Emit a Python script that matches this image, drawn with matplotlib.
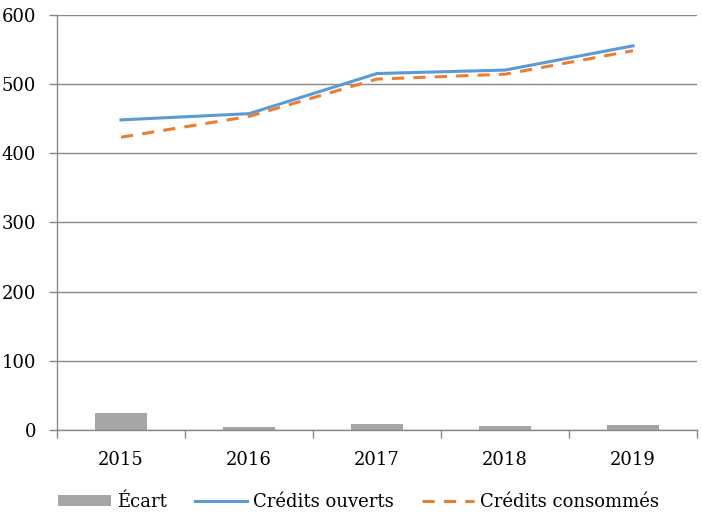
import matplotlib
matplotlib.use('Agg')
import matplotlib.pyplot as plt
import numpy as np

annees = ['2015', '2016', '2017', '2018', '2019']
credits_ouverts = [448, 457, 515, 520, 555]
credits_consommes = [423, 453, 507, 514, 548]
ecart = [25, 4, 8, 6, 7]

plt.rcParams['font.family'] = ['DejaVu Serif']

fig = plt.figure(figsize=(7.02, 5.25), dpi=100)
ax = fig.add_axes([0.0812, 0.181, 0.9117, 0.791])

x = np.arange(len(annees))
b = ax.bar(x, ecart, width=0.4, color='#A5A5A5', label='Écart', zorder=2)
l1, = ax.plot(x, credits_ouverts, color='#5B9BD5', lw=2.2, label='Crédits ouverts', zorder=3)
l2, = ax.plot(x, credits_consommes, color='#ED7D31', lw=2.2, ls=(0, (4, 3)),
              label='Crédits consommés', zorder=3)

ax.set_xlim(-0.5, len(annees) - 0.5)
ax.set_ylim(0, 600)
ax.set_yticks(range(0, 601, 100))
ax.set_xticks(x)
ax.set_xticklabels(annees)
ax.set_xticks(np.arange(-0.5, len(annees), 1), minor=True)

gris = '#898989'
ax.grid(axis='y', color=gris, lw=1, zorder=0)
for s in ['top', 'right']:
    ax.spines[s].set_visible(False)
for s in ['left', 'bottom']:
    ax.spines[s].set_color(gris)
    ax.spines[s].set_linewidth(1)

ax.tick_params(axis='x', which='major', length=0, pad=15, labelsize=13)
ax.tick_params(axis='x', which='minor', length=6, color=gris, width=1)
ax.tick_params(axis='y', length=6, color=gris, width=1, pad=9, labelsize=13)

fig.legend([b, l1, l2], ['Écart', 'Crédits ouverts', 'Crédits consommés'],
           loc='center', bbox_to_anchor=(0.511, 0.044), ncol=3, frameon=False,
           fontsize=13, handlelength=2.9, handleheight=0.6, columnspacing=1.55,
           handletextpad=0.33)

fig.savefig('out.png', dpi=100)
